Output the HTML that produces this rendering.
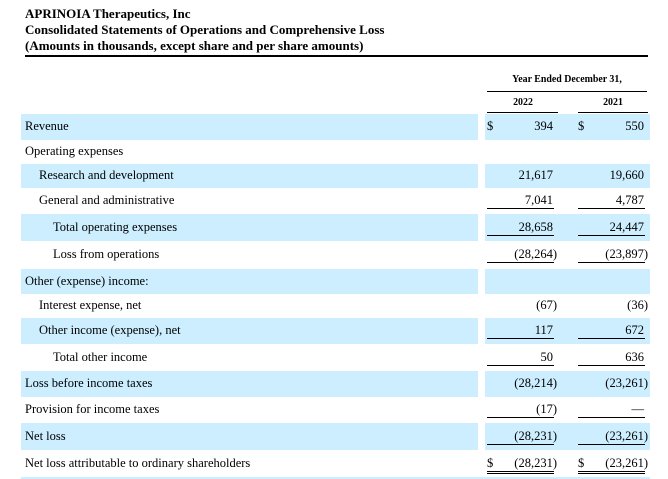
<!DOCTYPE html>
<html><head><meta charset="utf-8"><style>
body{margin:0;width:668px;height:479px;background:#fff;position:relative;overflow:hidden;font-family:"Liberation Serif",serif;color:#000}
.a{position:absolute;white-space:nowrap}
.t{font-weight:bold;font-size:13px;left:25px}
.bg{position:absolute;background:#cceeff}
.lb{font-size:12.5px;line-height:1}
.v{font-size:12.5px;line-height:1;text-align:right}
.ln{position:absolute;height:1px;background:#000}
.h{font-weight:bold;font-size:11px;transform:scaleX(0.9)}
</style></head><body>
<div class="a t" style="top:6px">APRINOIA Therapeutics, Inc</div>
<div class="a t" style="top:22px">Consolidated Statements of Operations and Comprehensive Loss</div>
<div class="a t" style="top:38px">(Amounts in thousands, except share and per share amounts)</div>
<div class="ln" style="left:25px;width:623px;top:55px;height:1.5px"></div>
<div class="a h" style="left:487px;width:160px;text-align:center;top:73px">Year Ended December 31,</div>
<div class="ln" style="left:487px;width:160px;top:91px"></div>
<div class="a h" style="left:487px;width:72px;text-align:center;top:96px">2022</div>
<div class="a h" style="left:578px;width:70px;text-align:center;top:96px">2021</div>
<div class="ln" style="left:487px;width:71px;top:112px"></div>
<div class="ln" style="left:578px;width:70px;top:112px"></div>
<div id="rows"></div>
<script>
const labels=["Revenue","Operating expenses","Research and development","General and administrative","Total operating expenses","Loss from operations","Other (expense) income:","Interest expense, net","Other income (expense), net","Total other income","Loss before income taxes","Provision for income taxes","Net loss","Net loss attributable to ordinary shareholders"];
const v2022=["394","","21,617","7,041","28,658","(28,264)","","(67)","117","50","(28,214)","(17)","(28,231)","(28,231)"];
const v2021=["550","","19,660","4,787","24,447","(23,897)","","(36)","672","636","(23,261)","—","(23,261)","(23,261)"];
const tops=[114,140,164,188,214,241,269,294,318,344,371,397,423,450,477];
const indent=[0,0,1,1,2,2,0,1,1,2,0,0,0,0];
const under=[0,0,0,1,1,1,0,0,1,1,0,1,1,2];
const dollar=[1,0,0,0,0,0,0,0,0,0,0,0,0,1];
const root=document.body;
function add(cls,style,txt,name){const d=document.createElement('div');d.className=cls;d.style.cssText=style;if(txt!==undefined)d.textContent=txt;


root.appendChild(d);return d;}
for(let i=0;i<labels.length;i++){
 const t=tops[i],h=tops[i+1]-t,c=t+h/2;
 if(i%2===0){add('bg',`left:21px;width:457px;top:${t}px;height:${h}px`,undefined,'row-band');add('bg',`left:485px;width:165px;top:${t}px;height:${h}px`,undefined,'row-band-values');}
 add('a lb',`left:${25+indent[i]*14}px;top:${c-7}px`,labels[i],'row-label');
 const vals=[v2022[i],v2021[i]],rx=[553,644],dx=[487,578];
 for(let k=0;k<2;k++){
  const s=vals[k];if(s==="")continue;
  const neg=s.startsWith('(');
  add('a v',`right:${668-rx[k]-(neg?4:0)}px;top:${c-7}px`,s,k?'value-2021':'value-2022');
  if(dollar[i])add('a lb',`left:${dx[k]}px;top:${c-7}px`,'$','dollar-sign');
  const uy=c+7;
  if(under[i]>=1)add('ln',`left:${dx[k]}px;width:${k?67:67}px;top:${uy}px`,undefined,'underline');
  if(under[i]==2)add('ln',`left:${dx[k]}px;width:67px;top:${uy+2}px`,undefined,'double-underline');
 }
}
add('bg',`left:21px;width:629px;top:477px;height:2px`,undefined,'row-band');
</script>
</body></html>
